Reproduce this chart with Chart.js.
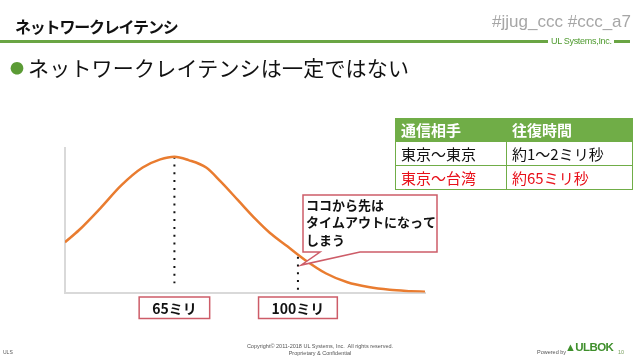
<!DOCTYPE html>
<html>
<head>
<meta charset="utf-8">
<script src="https://cdn.jsdelivr.net/npm/chart.js@4.4.1/dist/chart.umd.min.js"></script>
<style>
  body { margin: 0; width: 638px; height: 359px; overflow: hidden; background: #fff; position: relative;
         font-family: "Noto Sans CJK JP", "Noto Sans", sans-serif; }
  #chart { position: absolute; left: 0; top: 0; }
  .abs { position: absolute; white-space: nowrap; }
  #title { left: 15px; top: 16px; font-size: 16px; line-height: 20px; font-weight: bold; letter-spacing: -1.2px; color: #111; }
  #tag { right: 7px; top: 11px; font-family: "Liberation Sans", sans-serif; font-size: 17px; line-height: 22px; color: #a6a6a6; }
  .rule { position: absolute; top: 40px; height: 3px; background: #6aa544; }
  #company { left: 551px; top: 36px; font-family: "Liberation Sans", sans-serif; font-size: 9px; line-height: 11px; color: #4e9a2e; letter-spacing: -0.3px; }
  #bullet { left: 10px; top: 56px; font-size: 14px; line-height: 22px; color: #5b9b35; }
  #lead { left: 28px; top: 54px; font-size: 21px; line-height: 26px; color: #111; letter-spacing: 0.2px; }
  #latency-table { position: absolute; left: 395px; top: 118px; border-collapse: collapse; font-size: 15px; }
  #latency-table td, #latency-table th { border: 1.5px solid #70ad47; padding: 0 0 0 5px; text-align: left; white-space: nowrap; }
  #latency-table th { background: #70ad47; color: #fff; font-weight: bold; height: 22px; line-height: 22px; }
  #latency-table td { height: 23px; line-height: 23px; color: #111; }
  #latency-table tr.hot td { color: #e8101a; }
  .foot { position: absolute; font-family: "Liberation Sans", sans-serif; color: #555; white-space: nowrap; }
</style>
</head>
<body>
<canvas id="chart" width="638" height="359"></canvas>

<div class="abs" id="title">ネットワークレイテンシ</div>
<div class="abs" id="tag">#jjug_ccc #ccc_a7</div>
<div class="rule" style="left:0;width:548px"></div>
<div class="rule" style="left:614px;width:16px"></div>
<div class="abs" id="company">UL Systems,Inc.</div>
<div class="abs" id="bullet">●</div>
<div class="abs" id="lead">ネットワークレイテンシは一定ではない</div>

<table id="latency-table">
  <tr><th style="width:105px">通信相手</th><th style="width:120px">往復時間</th></tr>
  <tr><td>東京～東京</td><td>約1～2ミリ秒</td></tr>
  <tr class="hot"><td>東京～台湾</td><td>約65ミリ秒</td></tr>
</table>

<div class="foot" style="left:3px;top:349px;font-size:5px">ULS</div>
<div class="foot" style="left:220px;width:200px;top:343px;font-size:5.5px;line-height:6.5px;text-align:center">Copyright© 2011-2018 UL Systems, Inc.&nbsp; All rights reserved.<br>Proprietary &amp; Confidential</div>
<div class="foot" style="left:537px;top:349px;font-size:5.5px">Powered by</div>
<div class="foot" style="left:565px;top:341px;font-size:11.5px;font-weight:bold;color:#3f8f2c;letter-spacing:-0.6px"><span style="font-size:11px">▲</span>ULBOK</div>
<div class="foot" style="left:618px;top:349px;font-size:5.5px;color:#7aa060">10</div>

<script>
// latency distribution (ms vs. relative frequency)
const latencyMs = [34, 38, 44, 50, 56, 61, 65, 69, 74, 78, 83, 88, 92, 97, 102, 108, 114, 120, 126, 132, 136];
const frequency = [37, 46, 62, 79, 92, 98, 100, 97.5, 92, 82, 68, 54, 44, 34, 24, 14, 7.5, 4, 2, 1, 0.5];

// dotted markers and their boxed labels
const markerMs = [65, 100];
const markerTop = [100, 26.4];
const markerBottom = [6.8, 1.8];
const markerLabels = ["65ミリ", "100ミリ"];

// callout pointing at the timeout region
const calloutAt = { x: 100.9, y: 20.2 };
const calloutLines = ["ココから先は", "タイムアウトになって", "しまう"];

const curve = latencyMs.map((x, i) => ({ x: x, y: frequency[i] }));
const markerSets = markerMs.map((x, i) => ({
  data: [{ x: x, y: markerTop[i] }, { x: x, y: markerBottom[i] }],
  borderColor: "#111",
  borderWidth: 2,
  borderDash: [2, 5.8],
  borderCapStyle: "butt",
  pointRadius: 0,
  tension: 0,
}));

const annotations = {
  id: "annotations",
  afterDraw(chart) {
    const ctx = chart.ctx;
    const xs = chart.scales.x;
    const ys = chart.scales.y;
    ctx.save();
    ctx.font = "bold 14px 'Noto Sans CJK JP'";
    ctx.textAlign = "center";
    ctx.textBaseline = "middle";
    markerMs.forEach((v, i) => {
      const cx = xs.getPixelForValue(v);
      const w = ctx.measureText(markerLabels[i]).width + 26;
      ctx.fillStyle = "#fff";
      ctx.fillRect(cx - w / 2, 297, w, 21.5);
      ctx.strokeStyle = "#cd5c68";
      ctx.lineWidth = 1.5;
      ctx.strokeRect(cx - w / 2, 297, w, 21.5);
      ctx.fillStyle = "#111";
      ctx.fillText(markerLabels[i], cx, 308.5);
    });

    // callout box with wedge
    const tipX = xs.getPixelForValue(calloutAt.x);
    const tipY = ys.getPixelForValue(calloutAt.y);
    const l = 303, t = 195, r = 437, b = 252;
    ctx.beginPath();
    ctx.moveTo(l, t);
    ctx.lineTo(r, t);
    ctx.lineTo(r, b);
    ctx.lineTo(360, b);
    ctx.lineTo(tipX, tipY);
    ctx.lineTo(320, b);
    ctx.lineTo(l, b);
    ctx.closePath();
    ctx.fillStyle = "#fff";
    ctx.fill();
    ctx.strokeStyle = "#cd5c68";
    ctx.lineWidth = 1.5;
    ctx.stroke();
    ctx.fillStyle = "#111";
    ctx.font = "bold 13px 'Noto Sans CJK JP'";
    ctx.textAlign = "left";
    calloutLines.forEach((line, i) => ctx.fillText(line, 306, 205 + i * 17.5));
    ctx.restore();
  },
};

new Chart(document.getElementById("chart").getContext("2d"), {
  type: "line",
  data: {
    datasets: [
      {
        data: curve,
        borderColor: "#e97c30",
        borderWidth: 2.5,
        pointRadius: 0,
        cubicInterpolationMode: "monotone",
      },
      ...markerSets,
    ],
  },
  options: {
    responsive: false,
    animation: false,
    layout: { padding: { left: 65, top: 148, right: 213, bottom: 66.5 } },
    plugins: { legend: { display: false }, tooltip: { enabled: false } },
    scales: {
      x: {
        type: "linear",
        min: 34,
        max: 136,
        grid: { display: false, drawTicks: false },
        ticks: { display: false },
        border: { display: true, color: "#d9d9d9", width: 2 },
      },
      y: {
        min: 0,
        max: 106.4,
        grid: { display: false, drawTicks: false },
        ticks: { display: false },
        border: { display: true, color: "#d9d9d9", width: 2 },
      },
    },
  },
  plugins: [annotations],
});
</script>
</body>
</html>
